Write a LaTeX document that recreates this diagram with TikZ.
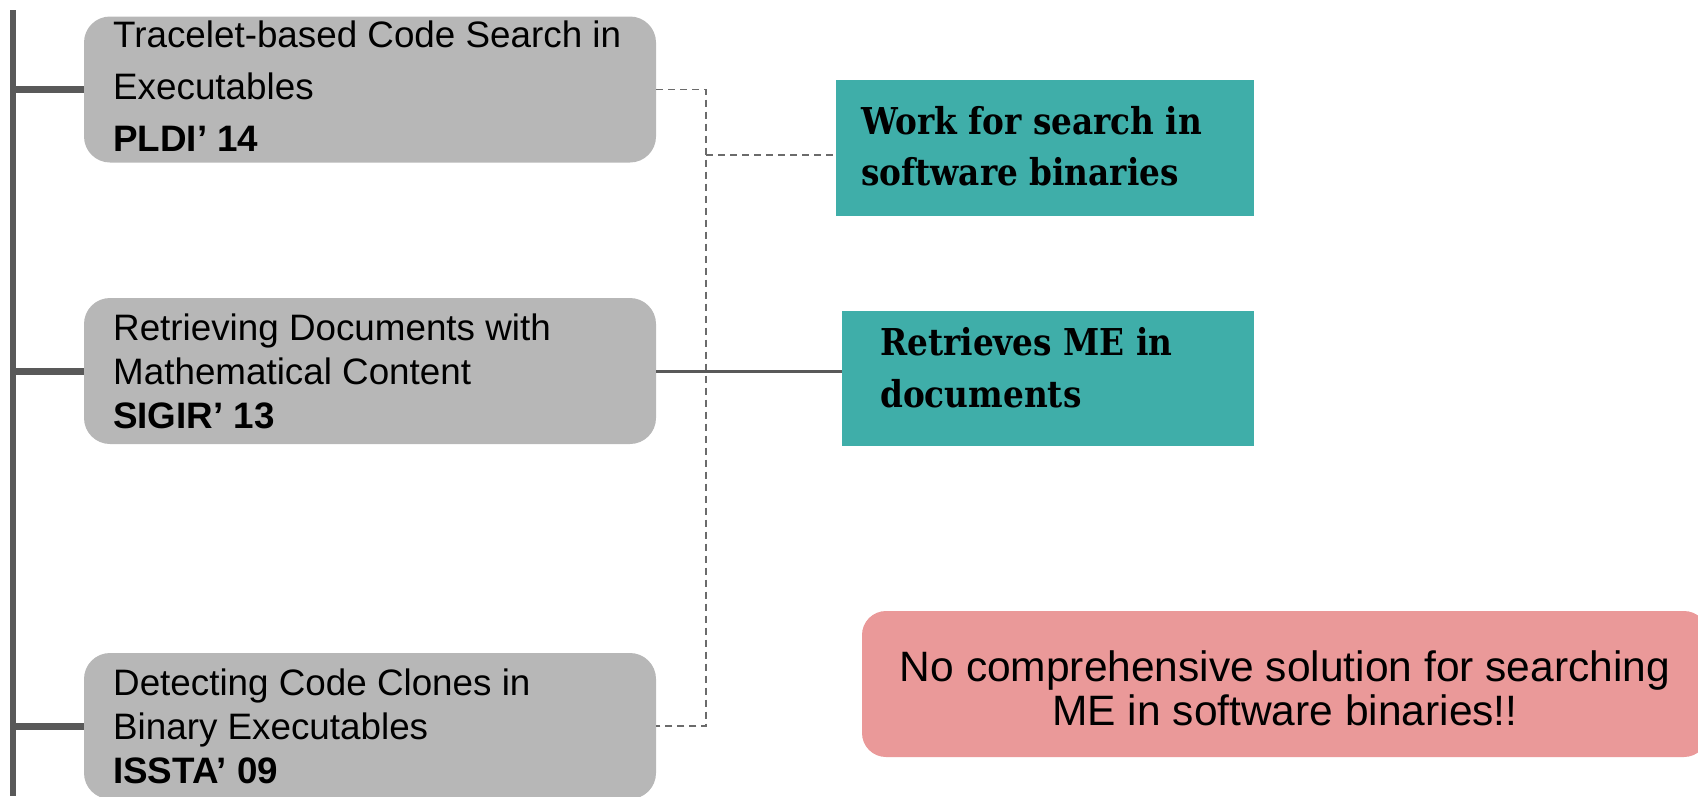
\documentclass[tikz,border=0pt]{standalone}
\usepackage{fontspec}
\setmainfont{Liberation Sans}
\newfontfamily\slabfont[FakeStretch=0.885]{DejaVu Serif}
\usetikzlibrary{calc}
\definecolor{boxgray}{HTML}{B7B7B7}
\definecolor{linegray}{HTML}{595959}
\definecolor{dashgray}{HTML}{6B6B6B}
\definecolor{teal}{HTML}{3FAEA9}
\definecolor{rose}{HTML}{EA9999}
\tikzset{
  graybox/.style={fill=boxgray, rounded corners=26pt, minimum width=572pt, minimum height=146pt, inner sep=0pt},
  tealbox/.style={fill=teal, inner sep=0pt},
  rosebox/.style={fill=rose, rounded corners=24pt, inner sep=0pt},
  gtext/.style={anchor=base west, inner sep=0pt, font=\fontsize{36.8}{44}\selectfont},
  gbold/.style={gtext, font=\fontsize{36.8}{44}\selectfont\bfseries},
  ttext/.style={anchor=base west, inner sep=0pt, font=\fontsize{37}{44}\selectfont\slabfont\bfseries},
  rtext/.style={anchor=base, inner sep=0pt, font=\fontsize{42.5}{50}\selectfont},
  bar/.style={draw=linegray, line width=6pt},
  stub/.style={draw=linegray, line width=7pt},
  solidlink/.style={draw=linegray, line width=3pt},
  dashlink/.style={draw=dashgray, line width=1.6pt, dash pattern=on 7pt off 5pt},
}
\begin{document}
\begin{tikzpicture}[x=1pt, y=-1pt]
\useasboundingbox (0,0) rectangle (1698,796);
% boxes
\node[graybox] (b1) at (370,89.5) {};
\node[graybox] (b2) at (370,371) {};
\node[graybox] (b3) at (370,726) {};
\node[tealbox, minimum width=418pt, minimum height=136pt] (t1) at (1045,148) {};
\node[tealbox, minimum width=412pt, minimum height=135pt] (t2) at (1048,378.5) {};
\node[rosebox, minimum width=846pt, minimum height=146pt] (r1) at (1285,684) {};
% timeline bar
\coordinate (bartop) at (13,10);
\coordinate (barbot) at (13,796);
\draw[bar] (bartop) -- (barbot);
\draw[stub] (b1.west -| bartop) -- (b1.west);
\draw[stub] (b2.west -| bartop) -- (b2.west);
\draw[stub] (b3.west -| bartop) -- (b3.west);
% connectors
\coordinate (dx) at (706,155);
\draw[dashlink] (b1.east) -| (dx |- b3.east) -- (b3.east);
\draw[dashlink] (dx) -- (dx -| t1.west);
\draw[solidlink] (b2.east) -- (b2.east -| t2.west);
% gray box texts
\node[gtext] (b1l1) at (113,47) {Tracelet-based Code Search in};
\node[gtext] (b1l2) at (113,99) {Executables};
\node[gbold] (b1l3) at (113,151) {PLDI’ 14};
\node[gtext] (b2l1) at (113,340) {Retrieving Documents with};
\node[gtext] (b2l2) at (113,384) {Mathematical Content};
\node[gbold] (b2l3) at (113,428) {SIGIR’ 13};
\node[gtext] (b3l1) at (113,695) {Detecting Code Clones in};
\node[gtext] (b3l2) at (113,739) {Binary Executables};
\node[gbold] (b3l3) at (113,783) {ISSTA’ 09};
% teal texts
\node[ttext] (t1l1) at (861,134) {Work for search in};
\node[ttext] (t1l2) at (861,185) {software binaries};
\node[ttext] (t2l1) at (880,355) {Retrieves ME in};
\node[ttext] (t2l2) at (880,407) {documents};
% rose text
\node[rtext] (r1l1) at (1285,681) {No comprehensive solution for searching};
\node[rtext] (r1l2) at (1285,725) {ME in software binaries!!};
\end{tikzpicture}
\end{document}
